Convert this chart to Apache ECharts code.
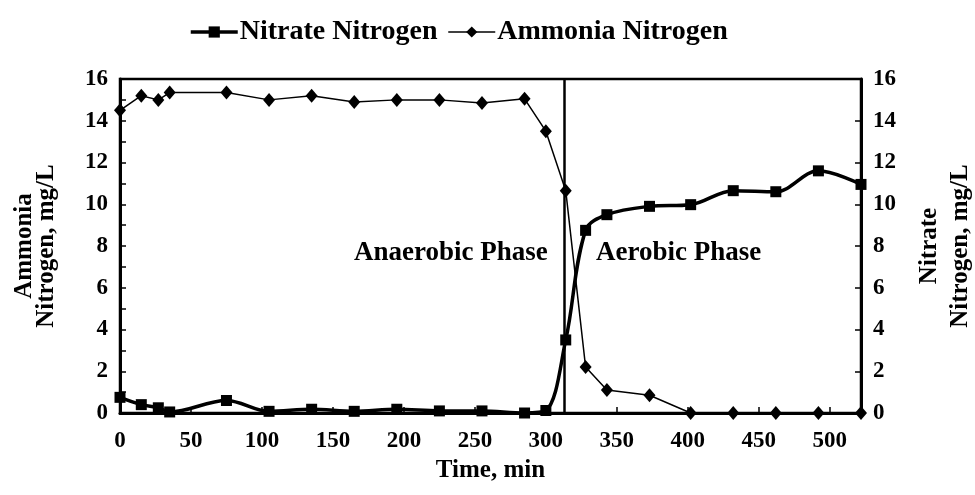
<!DOCTYPE html>
<html>
<head>
<meta charset="utf-8">
<script src="https://cdn.jsdelivr.net/npm/echarts@6/dist/echarts.min.js"></script>
<style>
html,body{margin:0;padding:0;background:#fff;}
#chart{width:975px;height:495px;}
</style>
</head>
<body>
<div id="chart"></div>
<script>
// Data
var times = [0, 15, 27, 35, 75, 105, 135, 165, 195, 225, 255, 285, 300, 314, 328, 343, 373, 402, 432, 462, 492, 522];
var nitrate = [0.75, 0.4, 0.25, 0.05, 0.6, 0.08, 0.18, 0.08, 0.18, 0.1, 0.1, 0.0, 0.12, 3.5, 8.75, 9.5, 9.9, 9.98, 10.65, 10.6, 11.6, 10.95];
var ammonia = [14.5, 15.2, 15.0, 15.35, 15.35, 15.0, 15.2, 14.9, 15.0, 15.0, 14.85, 15.05, 13.5, 10.65, 2.2, 1.1, 0.85, 0, 0, 0, 0, 0];
var phaseBoundary = 313;
var seriesNames = ['Nitrate Nitrogen', 'Ammonia Nitrogen'];
var phaseLabels = ['Anaerobic Phase', 'Aerobic Phase'];
var xTicks = [0, 50, 100, 150, 200, 250, 300, 350, 400, 450, 500];

function pairs(xs, ys) { return xs.map(function (x, i) { return [x, ys[i]]; }); }

var FONT = '"Liberation Serif", "Times New Roman", serif';
var chart = echarts.init(document.getElementById('chart'), null, {renderer: 'canvas'});

var axisCommon = {
  axisLine: {show: true, onZero: false, lineStyle: {color: '#000', width: 3}},
  splitLine: {show: false},
  axisLabel: {color: '#000', fontFamily: FONT, fontWeight: 'bold', fontSize: 23}
};

var option = {
  animation: false,
  backgroundColor: '#fff',
  legend: {
    left: 184, top: 13,
    itemWidth: 47, itemHeight: 14, itemGap: 10,
    textStyle: {color: '#000', fontFamily: FONT, fontWeight: 'bold', fontSize: 28, padding: [0, 0, 0, -3]},
    data: [
      {name: seriesNames[0], lineStyle: {width: 3.5}},
      {name: seriesNames[1], lineStyle: {width: 1.5}}
    ]
  },
  grid: {left: 120, right: 114, top: 79, bottom: 82, containLabel: false, outerBoundsMode: 'none',
    show: true, borderColor: '#000', borderWidth: 2.5, backgroundColor: 'transparent'},
  xAxis: Object.assign({}, axisCommon, {
    type: 'value', min: 0, max: 522, interval: 50,
    name: 'Time, min', nameLocation: 'middle', nameGap: 43,
    nameTextStyle: {color: '#000', fontFamily: FONT, fontWeight: 'bold', fontSize: 25},
    axisTick: {show: true, inside: true, length: 6, lineStyle: {color: '#000', width: 1.5}},
    axisLabel: Object.assign({}, axisCommon.axisLabel, {
      margin: 17,
      formatter: function (v) { return xTicks.indexOf(v) >= 0 ? String(v) : ''; }
    })
  }),
  yAxis: [
    Object.assign({}, axisCommon, {
      type: 'value', position: 'left', min: 0, max: 16, interval: 2,
      name: 'Ammonia\nNitrogen, mg/L', nameLocation: 'middle', nameGap: 62, nameRotate: 90,
      nameTextStyle: {color: '#000', fontFamily: FONT, fontWeight: 'bold', fontSize: 25, lineHeight: 22},
      axisTick: {show: true, inside: true, length: 6, lineStyle: {color: '#000', width: 1.5}},
      minorTick: {show: true, splitNumber: 2, length: 6, lineStyle: {color: '#000', width: 1.5}},
      axisLabel: Object.assign({}, axisCommon.axisLabel, {margin: 12})
    }),
    Object.assign({}, axisCommon, {
      type: 'value', position: 'right', min: 0, max: 16, interval: 2,
      name: 'Nitrate\nNitrogen, mg/L', nameLocation: 'middle', nameGap: 53, nameRotate: 90,
      nameTextStyle: {color: '#000', fontFamily: FONT, fontWeight: 'bold', fontSize: 25, lineHeight: 31},
      axisTick: {show: true, inside: true, length: 6, lineStyle: {color: '#000', width: 1.5}},
      axisLabel: Object.assign({}, axisCommon.axisLabel, {margin: 12})
    })
  ],
  series: [
    {
      name: seriesNames[0], type: 'line', yAxisIndex: 1,
      data: pairs(times, nitrate),
      smooth: 0.35,
      symbol: 'rect', symbolSize: 11,
      lineStyle: {color: '#000', width: 3.5},
      itemStyle: {color: '#000'},
      markLine: {
        silent: true, symbol: ['none', 'none'],
        label: {show: false},
        lineStyle: {color: '#000', width: 2.5, type: 'solid'},
        data: [{xAxis: phaseBoundary}]
      },
      z: 3
    },
    {
      name: seriesNames[1], type: 'line', yAxisIndex: 0,
      data: pairs(times, ammonia),
      symbol: 'diamond', symbolSize: [12, 14],
      lineStyle: {color: '#000', width: 1.5},
      itemStyle: {color: '#000'},
      z: 4
    }
  ],
  graphic: [
    {type: 'text', left: 354, top: 240, style: {text: phaseLabels[0], fill: '#000', font: 'bold 27px ' + FONT}},
    {type: 'text', left: 596, top: 240, style: {text: phaseLabels[1], fill: '#000', font: 'bold 27px ' + FONT}}
  ]
};
chart.setOption(option);
</script>
</body>
</html>
